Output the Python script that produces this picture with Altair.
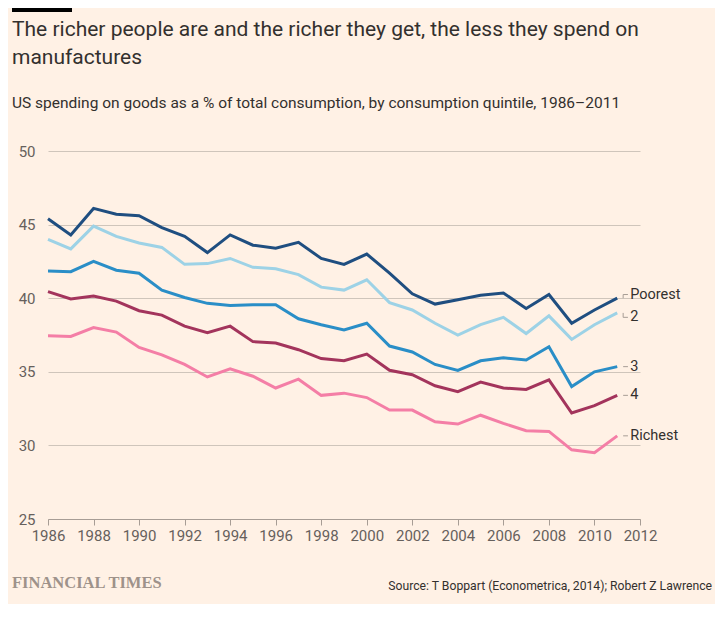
import altair as alt
import pandas as pd

years = list(range(1986, 2012))
poorest = [45.4, 44.3, 46.1, 45.7, 45.6, 44.8, 44.2, 43.1, 44.3, 43.6, 43.4, 43.8, 42.7,
           42.3, 43.0, 41.7, 40.3, 39.6, 39.9, 40.2, 40.35, 39.3, 40.25, 38.3, 39.2, 40.0]
q2 = [44.0, 43.35, 44.9, 44.2, 43.75, 43.45, 42.3, 42.35, 42.7, 42.1, 42.0, 41.6, 40.75,
      40.55, 41.25, 39.7, 39.2, 38.3, 37.5, 38.2, 38.7, 37.6, 38.8, 37.2, 38.2, 39.0]
q3 = [41.85, 41.8, 42.5, 41.9, 41.7, 40.55, 40.05, 39.65, 39.5, 39.55, 39.55, 38.6, 38.2,
      37.85, 38.3, 36.75, 36.35, 35.5, 35.1, 35.75, 35.95, 35.8, 36.7, 34.0, 35.0, 35.35]
q4 = [40.45, 39.95, 40.15, 39.8, 39.15, 38.85, 38.1, 37.65, 38.1, 37.05, 36.95, 36.5, 35.9,
      35.75, 36.2, 35.1, 34.8, 34.05, 33.65, 34.3, 33.9, 33.8, 34.45, 32.2, 32.7, 33.4]
richest = [37.45, 37.4, 38.0, 37.7, 36.65, 36.15, 35.5, 34.65, 35.2, 34.7, 33.9, 34.5, 33.4,
           33.55, 33.25, 32.4, 32.4, 31.6, 31.45, 32.05, 31.5, 31.0, 30.95, 29.7, 29.5, 30.65]

quintiles = ["Poorest", "2", "3", "4", "Richest"]
colors = ["#1f4e80", "#9dd2e6", "#2a8ec7", "#a3345c", "#f47ea6"]
label_y = [40.25, 38.7, 35.35, 33.4, 30.65]
x_ticks = list(range(1986, 2013, 2))
y_ticks = [25, 30, 35, 40, 45, 50]

title1 = "The richer people are and the richer they get, the less they spend on"
title2 = "manufactures"
subtitle = "US spending on goods as a % of total consumption, by consumption quintile, 1986\u20132011"
source = "Source: T Boppart (Econometrica, 2014); Robert Z Lawrence"
brand = "FINANCIAL TIMES"

series = [poorest, q2, q3, q4, richest]
rows = []
for name, vals in zip(quintiles, series):
    for yr, v in zip(years, vals):
        rows.append({"year": yr, "value": v, "quintile": name})
df = pd.DataFrame(rows)

ends = pd.DataFrame({
    "quintile": quintiles,
    "end": [s[-1] for s in series],
    "label_y": label_y,
    "year": [years[-1]] * len(quintiles),
})

FONT = "Roboto"
TXT = "#33302e"
SUB = "#66605c"
BG = "#fff1e5"

xscale = alt.Scale(domain=[1986, 2012], nice=False, zero=False)
yscale = alt.Scale(domain=[25, 50], nice=False, zero=False)
cscale = alt.Scale(domain=quintiles, range=colors)

lines = alt.Chart(df).mark_line(strokeWidth=3, strokeJoin="miter").encode(
    x=alt.X("year:Q", scale=xscale,
            axis=alt.Axis(values=x_ticks, format="d", grid=False, domainColor="#a79d95",
                          tickColor="#a79d95", tickSize=6, labelFontSize=15, labelColor=SUB,
                          labelPadding=3, labelFont=FONT, title=None, labelFlush=False)),
    y=alt.Y("value:Q", scale=yscale,
            axis=alt.Axis(values=y_ticks, grid=True, gridColor="#cfc5bb", domain=False,
                          ticks=False, labelPadding=13, labelFontSize=15, labelColor=SUB,
                          labelFont=FONT, title=None)),
    color=alt.Color("quintile:N", scale=cscale, legend=None),
    detail="quintile:N",
)

conn_v = alt.Chart(ends).transform_calculate(cx="datum.year + 0.26").mark_rule(
    color="#a79d95", strokeWidth=1).encode(
    x=alt.X("cx:Q", scale=xscale), y=alt.Y("end:Q", scale=yscale), y2="label_y:Q")

conn_h = alt.Chart(ends).transform_calculate(
    cx="datum.year + 0.26", cx2="datum.year + 0.47").mark_rule(
    color="#a79d95", strokeWidth=1).encode(
    x=alt.X("cx:Q", scale=xscale), x2="cx2:Q", y=alt.Y("label_y:Q", scale=yscale))

labels = alt.Chart(ends).mark_text(align="left", baseline="middle", dx=13,
                                   fontSize=14.5, color=TXT, font=FONT).encode(
    x=alt.X("year:Q", scale=xscale), y=alt.Y("label_y:Q", scale=yscale), text="quintile:N")


def txt(s, x, y, size, color, font=FONT, align="left", weight="normal"):
    return alt.Chart(alt.Data(values=[{"t": s}])).mark_text(
        align=align, baseline="middle", fontSize=size, color=color, font=font,
        fontWeight=weight).encode(x=alt.value(x), y=alt.value(y), text="t:N")


bar = alt.Chart(alt.Data(values=[{"t": 1}])).mark_rect(color="#000000").encode(
    x=alt.value(-36), x2=alt.value(24), y=alt.value(-143), y2=alt.value(-139))

chart = alt.layer(
    lines, conn_v, conn_h, labels,
    txt(title1, -36, -121, 21, TXT),
    txt(title2, -36, -93, 21, TXT),
    txt(subtitle, -36, -48, 15.5, TXT),
    txt(brand, -36, 432, 16.5, "#9e928a", font="Liberation Serif", weight="bold"),
    txt(source, 664, 435, 12.2, TXT, align="right"),
    bar,
).properties(
    width=592, height=368, autosize="none",
    padding={"left": 40, "top": 143, "right": 75, "bottom": 85},
).configure(background=BG).configure_view(stroke=None)

chart.save("out.html", embed_options={"renderer": "svg", "actions": False})
